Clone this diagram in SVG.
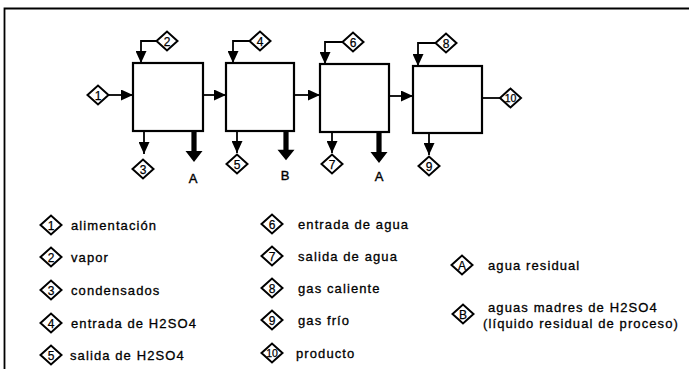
<svg xmlns="http://www.w3.org/2000/svg" xmlns:xlink="http://www.w3.org/1999/xlink" width="689" height="369" viewBox="0 0 689 369">
<style>
.box{fill:#fff;stroke:#000;stroke-width:2.2}
.dia{fill:#fff;stroke:#000;stroke-width:2}
.ln{fill:none;stroke:#000;stroke-width:1.8}
.num{font-family:"Liberation Sans",Arial,sans-serif;font-size:12px;text-anchor:middle;fill:#000;stroke:#000;stroke-width:0.25}
.lbl{font-family:"Liberation Sans",Arial,sans-serif;font-size:13px;text-anchor:middle;fill:#000;stroke:#000;stroke-width:0.4}
.leg{font-family:"Liberation Sans",Arial,sans-serif;font-size:13px;letter-spacing:1.1px;fill:#000;stroke:#000;stroke-width:0.3}
</style>
<defs>
<marker id="ah" markerUnits="userSpaceOnUse" markerWidth="12" markerHeight="11" refX="12" refY="5.5" orient="auto"><path d="M0,0 L12,5.5 L0,11 Z" fill="#000"/></marker>
<path id="d" d="M-10.5,0 L0,-9.5 L10.5,0 L0,9.5 Z"/>
<path id="thick" d="M-2.6,0 V20 H-8.5 L0,31 L8.5,20 H2.6 V0 Z" fill="#000"/>
</defs>
<g id="frame" class="ln"><path d="M4.5,369 V8.5 H689"/></g>
<g id="connectors">
<path class="ln" d="M108.5,95 H133" marker-end="url(#ah)"/>
<path class="ln" d="M203,95 H226" marker-end="url(#ah)"/>
<path class="ln" d="M294,95 H320" marker-end="url(#ah)"/>
<path class="ln" d="M389,96 H413" marker-end="url(#ah)"/>
<path class="ln" d="M482,98 H500"/>
<path class="ln" d="M156.5,41 H141 V63" marker-end="url(#ah)"/>
<path class="ln" d="M249.5,41 H233 V63" marker-end="url(#ah)"/>
<path class="ln" d="M342.5,42 H325 V64" marker-end="url(#ah)"/>
<path class="ln" d="M435.5,43 H418 V66" marker-end="url(#ah)"/>
<path class="ln" d="M144,131 V154" marker-end="url(#ah)"/>
<path class="ln" d="M237,131 V153" marker-end="url(#ah)"/>
<path class="ln" d="M332,132 V153" marker-end="url(#ah)"/>
<path class="ln" d="M429,133 V155" marker-end="url(#ah)"/>
<use xlink:href="#thick" href="#thick" transform="translate(194,131)"/>
<use xlink:href="#thick" href="#thick" transform="translate(286,131) scale(1,0.94)"/>
<use xlink:href="#thick" href="#thick" transform="translate(379,132)"/>
</g>
<g id="box1"><rect class="box" x="133" y="63" width="70" height="68"/></g>
<g id="box2"><rect class="box" x="226" y="63" width="68" height="68"/></g>
<g id="box3"><rect class="box" x="320" y="64" width="69" height="68"/></g>
<g id="box4"><rect class="box" x="413" y="66" width="69" height="67"/></g>
<g id="s1"><use xlink:href="#d" href="#d" class="dia" x="98" y="95"/><text class="num" x="98" y="99.5">1</text></g>
<g id="s2"><use xlink:href="#d" href="#d" class="dia" x="167" y="41"/><text class="num" x="167" y="45.5">2</text></g>
<g id="s3"><use xlink:href="#d" href="#d" class="dia" x="143" y="169"/><text class="num" x="143" y="173.5">3</text></g>
<g id="s4"><use xlink:href="#d" href="#d" class="dia" x="260" y="41"/><text class="num" x="260" y="45.5">4</text></g>
<g id="s5"><use xlink:href="#d" href="#d" class="dia" x="237" y="164"/><text class="num" x="237" y="168.5">5</text></g>
<g id="s6"><use xlink:href="#d" href="#d" class="dia" x="353" y="42"/><text class="num" x="353" y="46.5">6</text></g>
<g id="s7"><use xlink:href="#d" href="#d" class="dia" x="332" y="164"/><text class="num" x="332" y="168.5">7</text></g>
<g id="s8"><use xlink:href="#d" href="#d" class="dia" x="446" y="43"/><text class="num" x="446" y="47.5">8</text></g>
<g id="s9"><use xlink:href="#d" href="#d" class="dia" x="429" y="166"/><text class="num" x="429" y="170.5">9</text></g>
<g id="s10"><use xlink:href="#d" href="#d" class="dia" x="510.5" y="98"/><text class="num" x="510.5" y="102" style="font-size:10.5px">10</text></g>
<g id="outA1"><text class="lbl" x="193" y="183">A</text></g>
<g id="outB"><text class="lbl" x="285" y="180">B</text></g>
<g id="outA2"><text class="lbl" x="379" y="181">A</text></g>
<g id="legend">
<g id="l1"><use xlink:href="#d" href="#d" class="dia" x="51" y="225"/><text class="num" x="51" y="229.5">1</text><text class="leg" x="71" y="229.5">alimentación</text></g>
<g id="l2"><use xlink:href="#d" href="#d" class="dia" x="51" y="257"/><text class="num" x="51" y="261.5">2</text><text class="leg" x="71" y="261.5">vapor</text></g>
<g id="l3"><use xlink:href="#d" href="#d" class="dia" x="51" y="290"/><text class="num" x="51" y="294.5">3</text><text class="leg" x="71" y="294.5">condensados</text></g>
<g id="l4"><use xlink:href="#d" href="#d" class="dia" x="51" y="323"/><text class="num" x="51" y="327.5">4</text><text class="leg" x="71" y="327.5">entrada de H2SO4</text></g>
<g id="l5"><use xlink:href="#d" href="#d" class="dia" x="51" y="355"/><text class="num" x="51" y="359.5">5</text><text class="leg" x="70" y="359.5">salida de H2SO4</text></g>
<g id="l6"><use xlink:href="#d" href="#d" class="dia" x="272" y="224"/><text class="num" x="272" y="228.5">6</text><text class="leg" x="298" y="228.5">entrada de agua</text></g>
<g id="l7"><use xlink:href="#d" href="#d" class="dia" x="272" y="256"/><text class="num" x="272" y="260.5">7</text><text class="leg" x="298" y="260.5">salida de agua</text></g>
<g id="l8"><use xlink:href="#d" href="#d" class="dia" x="272" y="288"/><text class="num" x="272" y="292.5">8</text><text class="leg" x="298" y="292.5">gas caliente</text></g>
<g id="l9"><use xlink:href="#d" href="#d" class="dia" x="272" y="320"/><text class="num" x="272" y="324.5">9</text><text class="leg" x="298" y="324.5">gas frío</text></g>
<g id="l10"><use xlink:href="#d" href="#d" class="dia" x="272" y="353"/><text class="num" x="272" y="357" style="font-size:10.5px">10</text><text class="leg" x="296" y="357.5">producto</text></g>
<g id="lA"><use xlink:href="#d" href="#d" class="dia" x="462" y="265"/><text class="num" x="462" y="269.5">A</text><text class="leg" x="488" y="269.5">agua residual</text></g>
<g id="lB"><use xlink:href="#d" href="#d" class="dia" x="463" y="314"/><text class="num" x="463" y="318.5">B</text><text class="leg" x="488" y="312">aguas madres de H2SO4</text><text class="leg" x="483" y="328">(líquido residual de proceso)</text></g>
</g>
</svg>
